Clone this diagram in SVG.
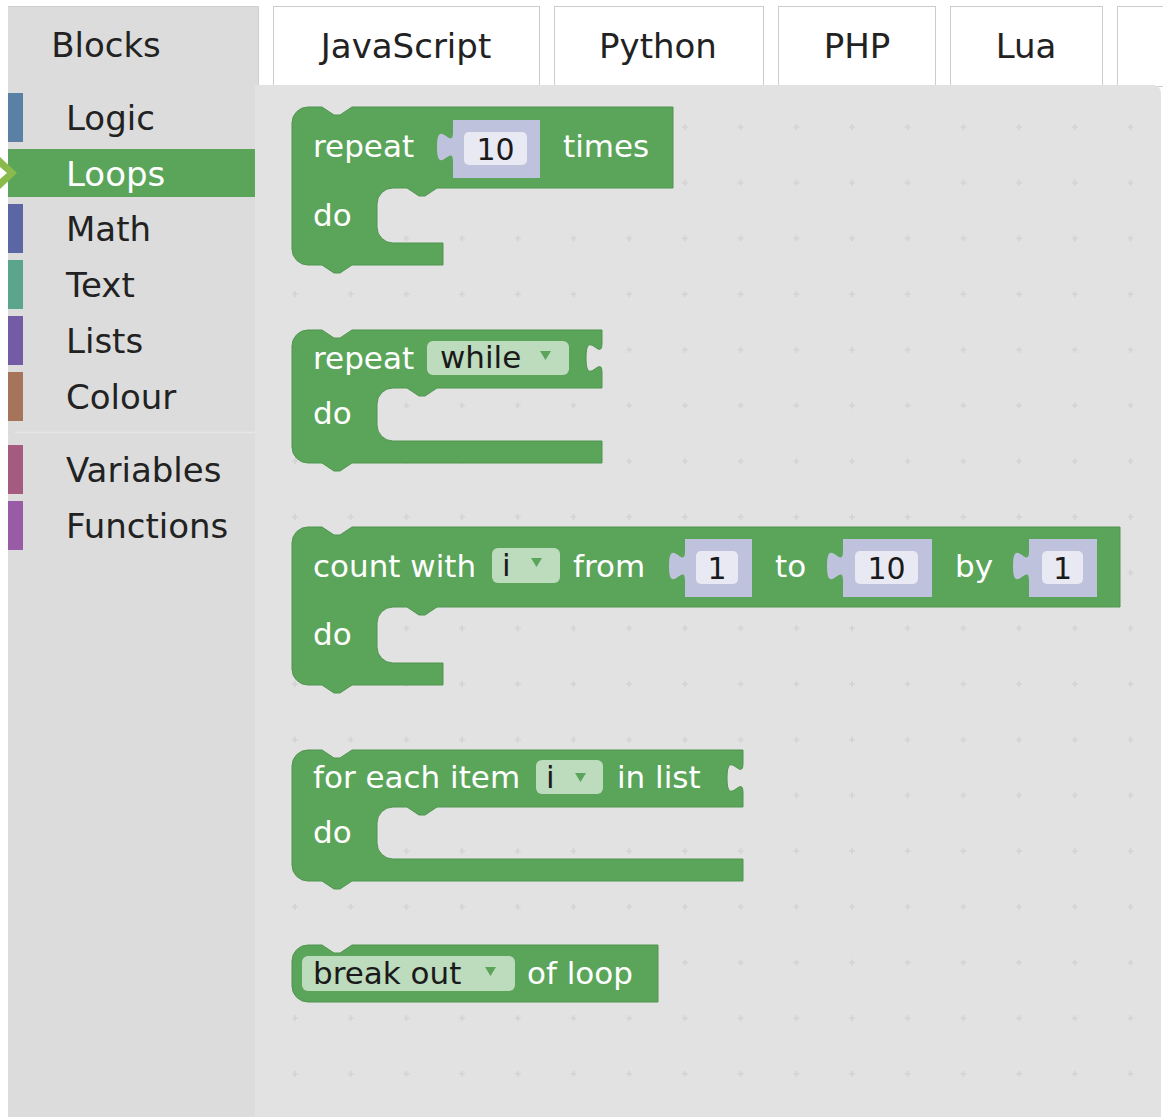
<svg xmlns="http://www.w3.org/2000/svg" width="1163" height="1117" viewBox="0 0 1163 1117">
<style>
  .lbl { font-family: "DejaVu Sans", Verdana, sans-serif; font-size: 34px; fill: #222; }
  .tabtxt { font-family: "DejaVu Sans", Verdana, sans-serif; font-size: 34px; fill: #222; text-anchor: middle; }
  .tab { fill: #ffffff; stroke: #cccccc; stroke-width: 1; }
  .blk { fill: #5ba55b; stroke: #4f944f; stroke-width: 1; }
  .bt { font-family: "DejaVu Sans", Verdana, sans-serif; font-size: 31px; fill: #ffffff; }
  .ft { font-family: "DejaVu Sans", Verdana, sans-serif; font-size: 31px; fill: #1a1a1a; }
  .num { font-family: "DejaVu Sans", Verdana, sans-serif; font-size: 30px; fill: #1a1a1a; text-anchor: middle; }
  .shadow { fill: #bec2dc; }
  .field { fill: #e9e9f3; }
  .dd { fill: #bddbbd; }
  .arrow { fill: #5ba55b; }
  .cross { stroke: #d3d3d3; stroke-width: 1.6; fill: none; }
</style>
<defs>
  <pattern id="grid" patternUnits="userSpaceOnUse" x="267.15" y="99.15" width="55.7" height="55.7">
    <path class="cross" d="M24.85,27.85 h6 M27.85,24.85 v6"/>
  </pattern>
</defs>

<rect x="0" y="0" width="1163" height="1117" fill="#ffffff"/>

<!-- tabs -->
<g id="tabs">
  <g id="tab-blocks">
    <rect x="8" y="6" width="250.5" height="79" fill="#dcdcdc"/>
    <path d="M8,6.5 H258.5 V85" fill="none" stroke="#cfcfcf" stroke-width="1"/>
    <text class="tabtxt" x="106" y="57">Blocks</text>
  </g>
  <g id="tab-javascript">
    <rect class="tab" x="273.5" y="6.5" width="266" height="80"/>
    <text class="tabtxt" x="406" y="58">JavaScript</text>
  </g>
  <g id="tab-python">
    <rect class="tab" x="554.5" y="6.5" width="209" height="80"/>
    <text class="tabtxt" x="658" y="58">Python</text>
  </g>
  <g id="tab-php">
    <rect class="tab" x="778.5" y="6.5" width="157" height="80"/>
    <text class="tabtxt" x="857" y="58">PHP</text>
  </g>
  <g id="tab-lua">
    <rect class="tab" x="950.5" y="6.5" width="152" height="80"/>
    <text class="tabtxt" x="1026" y="58">Lua</text>
  </g>
  <g id="tab-next">
    <rect class="tab" x="1117.5" y="6.5" width="100" height="80"/>
  </g>
</g>

<!-- sidebar -->
<g id="sidebar">
  <rect x="8" y="85" width="247" height="1032" fill="#dcdcdc"/>
  <line x1="15" y1="432.5" x2="255" y2="432.5" stroke="#e6e6e6" stroke-width="1.5"/>
  <g id="cat-logic">
    <rect x="8" y="93" width="15" height="49" fill="#5b80a5"/>
    <text class="lbl" x="66" y="130">Logic</text>
  </g>
  <g id="cat-loops">
    <rect x="8" y="149" width="247" height="48" fill="#5ba55b"/>
    <text class="lbl" x="66" y="186" style="fill:#ffffff">Loops</text>
    <polygon points="0,157 17,173 0,189 0,179 7,173 0,167" fill="#8bba4c"/>
  </g>
  <g id="cat-math">
    <rect x="8" y="204" width="15" height="49" fill="#5b67a5"/>
    <text class="lbl" x="66" y="241">Math</text>
  </g>
  <g id="cat-text">
    <rect x="8" y="260" width="15" height="49" fill="#5ba58c"/>
    <text class="lbl" x="66" y="297">Text</text>
  </g>
  <g id="cat-lists">
    <rect x="8" y="316" width="15" height="49" fill="#745ba5"/>
    <text class="lbl" x="66" y="353">Lists</text>
  </g>
  <g id="cat-colour">
    <rect x="8" y="372" width="15" height="49" fill="#a5745b"/>
    <text class="lbl" x="66" y="409">Colour</text>
  </g>
  <g id="cat-variables">
    <rect x="8" y="445" width="15" height="49" fill="#a55b80"/>
    <text class="lbl" x="66" y="482">Variables</text>
  </g>
  <g id="cat-functions">
    <rect x="8" y="501" width="15" height="49" fill="#995ba5"/>
    <text class="lbl" x="66" y="538">Functions</text>
  </g>
</g>

<!-- workspace -->
<g id="workspace">
  <path d="M255,85 H1153 A8,8 0 0 1 1161,93 V1117 H255 Z" fill="#e2e2e2"/>
  <path d="M255,85 H1153 A8,8 0 0 1 1161,93 V1117 H255 Z" fill="url(#grid)"/>
</g>

<g id="connectors"></g>

<!-- block: repeat 10 times -->
<g id="block-repeat-times">
  <path class="blk" d="M292,123 A16,16 0 0 1 308,107 H322 l12,8 h6 l12,-8 H673 V188 H437 l-12,8 h-6 l-12,-8 H393 A16,16 0 0 0 377,204 V227 A16,16 0 0 0 393,243 H443 V265 H352 l-12,8 h-6 l-12,-8 H308 A16,16 0 0 1 292,249 Z"/>
  <text class="bt" x="313" y="157">repeat</text>
  <path class="shadow" d="M453,120 V132 c0,20 -16,-16 -16,15 s16,-5 16,15 V178 H540 V120 Z"/>
  <rect class="field" x="464" y="132" width="63" height="33" rx="5"/>
  <text class="num" x="495.5" y="160">10</text>
  <text class="bt" x="563" y="157">times</text>
  <text class="bt" x="313" y="226">do</text>
</g>

<!-- block: repeat while -->
<g id="block-repeat-while">
  <path class="blk" d="M292,346 A16,16 0 0 1 308,330 H322 l12,8 h6 l12,-8 H602 V343 c0,20 -16,-16 -16,15 s16,-5 16,15 V388 H437 l-12,8 h-6 l-12,-8 H393 A16,16 0 0 0 377,404 V425 A16,16 0 0 0 393,441 H602 V463 H352 l-12,8 h-6 l-12,-8 H308 A16,16 0 0 1 292,447 Z"/>
  <text class="bt" x="313" y="369">repeat</text>
  <rect class="dd" x="427" y="341" width="142" height="34" rx="6"/>
  <text class="ft" x="440" y="368">while</text>
  <polygon class="arrow" points="540,351 551,351 545.5,360"/>
  <text class="bt" x="313" y="424">do</text>
</g>

<!-- block: count with -->
<g id="block-count-with">
  <path class="blk" d="M292,543 A16,16 0 0 1 308,527 H322 l12,8 h6 l12,-8 H1120 V607 H437 l-12,8 h-6 l-12,-8 H393 A16,16 0 0 0 377,623 V647 A16,16 0 0 0 393,663 H443 V685 H352 l-12,8 h-6 l-12,-8 H308 A16,16 0 0 1 292,669 Z"/>
  <text class="bt" x="313" y="577">count with</text>
  <rect class="dd" x="492" y="548" width="68" height="35" rx="6"/>
  <text class="ft" x="502" y="576">i</text>
  <polygon class="arrow" points="531,558 542,558 536.5,567"/>
  <text class="bt" x="573" y="577">from</text>
  <path class="shadow" d="M685,539 V551 c0,20 -16,-16 -16,15 s16,-5 16,15 V597 H752 V539 Z"/>
  <rect class="field" x="696" y="551" width="42" height="33" rx="5"/>
  <text class="num" x="717" y="579">1</text>
  <text class="bt" x="775" y="577">to</text>
  <path class="shadow" d="M843,539 V551 c0,20 -16,-16 -16,15 s16,-5 16,15 V597 H932 V539 Z"/>
  <rect class="field" x="855" y="551" width="63" height="33" rx="5"/>
  <text class="num" x="886.5" y="579">10</text>
  <text class="bt" x="955" y="577">by</text>
  <path class="shadow" d="M1029,539 V551 c0,20 -16,-16 -16,15 s16,-5 16,15 V597 H1097 V539 Z"/>
  <rect class="field" x="1042" y="551" width="41" height="33" rx="5"/>
  <text class="num" x="1062.5" y="579">1</text>
  <text class="bt" x="313" y="645">do</text>
</g>

<!-- block: for each item -->
<g id="block-for-each">
  <path class="blk" d="M292,766 A16,16 0 0 1 308,750 H322 l12,8 h6 l12,-8 H743 V763 c0,20 -16,-16 -16,15 s16,-5 16,15 V807 H437 l-12,8 h-6 l-12,-8 H393 A16,16 0 0 0 377,823 V843 A16,16 0 0 0 393,859 H743 V881 H352 l-12,8 h-6 l-12,-8 H308 A16,16 0 0 1 292,865 Z"/>
  <text class="bt" x="313" y="788">for each item</text>
  <rect class="dd" x="536" y="760" width="67" height="34" rx="6"/>
  <text class="ft" x="546" y="788">i</text>
  <polygon class="arrow" points="575,773 586,773 580.5,782"/>
  <text class="bt" x="617" y="788">in list</text>
  <text class="bt" x="313" y="843">do</text>
</g>

<!-- block: break out of loop -->
<g id="block-break">
  <path class="blk" d="M292,961 A16,16 0 0 1 308,945 H322 l12,8 h6 l12,-8 H658 V1002 H308 A16,16 0 0 1 292,986 Z"/>
  <rect class="dd" x="302" y="956" width="213" height="35" rx="6"/>
  <text class="ft" x="313" y="984">break out</text>
  <polygon class="arrow" points="485,967 496,967 490.5,976"/>
  <text class="bt" x="527" y="984">of loop</text>
</g>
</svg>
